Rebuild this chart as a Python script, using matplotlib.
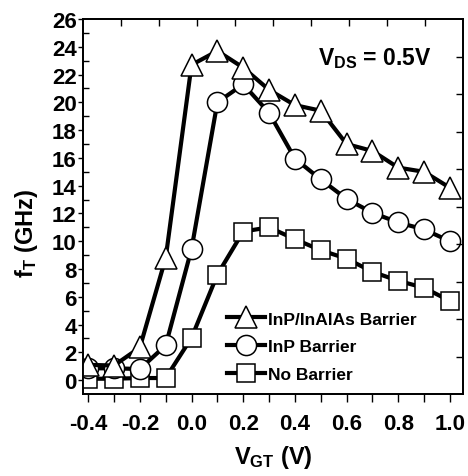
import matplotlib
matplotlib.use("Agg")
import matplotlib.pyplot as plt
import numpy as np

plt.rcParams['font.family'] = ['Liberation Sans', 'DejaVu Sans']
plt.rcParams['font.weight'] = 'bold'
plt.rcParams['mathtext.fontset'] = 'custom'
plt.rcParams['mathtext.rm'] = 'Liberation Sans:bold'
plt.rcParams['mathtext.it'] = 'Liberation Sans:bold'
plt.rcParams['mathtext.bf'] = 'Liberation Sans:bold'

vgt = [-0.4, -0.3, -0.2, -0.1, 0.0, 0.1, 0.2, 0.3, 0.4, 0.5, 0.6, 0.7, 0.8, 0.9, 1.0]
inp_inalas = [1.1, 1.05, 2.35, 8.8, 22.7, 23.7, 22.5, 20.9, 19.8, 19.4, 17.0, 16.5, 15.3, 15.0, 13.85]
inp = [0.85, 0.85, 0.8, 2.5, 9.45, 20.0, 21.3, 19.25, 15.95, 14.45, 13.05, 12.05, 11.35, 10.85, 10.0]
no_barrier = [0.1, 0.1, 0.15, 0.15, 3.05, 7.6, 10.7, 11.0, 10.15, 9.35, 8.75, 7.8, 7.15, 6.65, 5.7]

labels = ['InP/InAlAs Barrier', 'InP Barrier', 'No Barrier']

fig = plt.figure(figsize=(4.68, 4.77), dpi=100)
ax = fig.add_axes([0.1774, 0.1719, 0.8116, 0.7861])

lw = 3.0
mew = 1.1
h3, = ax.plot(vgt, no_barrier, color='black', lw=lw, marker='s', ms=13.5,
              mfc='white', mec='black', mew=mew, zorder=3, label=labels[2])
h2, = ax.plot(vgt, inp, color='black', lw=lw, marker='o', ms=14.5,
              mfc='white', mec='black', mew=mew, zorder=4, label=labels[1])
h1, = ax.plot(vgt, inp_inalas, color='black', lw=lw, marker='^', ms=16,
              mfc='white', mec='black', mew=mew, zorder=5, label=labels[0])

ax.set_xlim(-0.42, 1.05)
ax.set_ylim(-1, 26)
ax.set_xticks(np.arange(-0.4, 1.01, 0.2))
ax.set_xticklabels(['-0.4', '-0.2', '0.0', '0.2', '0.4', '0.6', '0.8', '1.0'])
ax.set_xticks(np.arange(-0.4, 1.01, 0.1), minor=True)
ax.set_yticks(np.arange(0, 27, 2))
ax.set_yticks(np.arange(1, 26, 2), minor=True)

for s in ax.spines.values():
    s.set_linewidth(1.1)

ax.tick_params(axis='x', which='both', direction='out', length=5.5, width=1.0,
               labelsize=16, pad=8, top=False)
ax.tick_params(axis='y', which='major', direction='out', length=3.5, width=1.0,
               labelsize=16, pad=1, right=False)
ax.tick_params(axis='y', which='minor', direction='in', length=4, width=1.0, right=False)

# decorative top / right tick scales
axt = ax.twiny()
axt.set_xlim(0, 10)
axt.set_xticks(np.arange(1, 10))
axt.tick_params(axis='x', direction='in', length=5, width=1.0, labeltop=False)
axr = ax.twinx()
axr.set_ylim(0, 10)
axr.set_yticks(np.arange(1, 10))
axr.tick_params(axis='y', direction='in', length=5, width=1.0, labelright=False)
for a in (axt, axr):
    for s in a.spines.values():
        s.set_linewidth(1.1)

fig.text(273 / 468, 1 - 458 / 477, r'V$_{\mathregular{GT}}$ (V)', fontsize=17,
         fontweight='bold', ha='center', va='center')
fig.text(26 / 468, 1 - 233 / 477, r'f$_{\mathregular{T}}$ (GHz)', fontsize=17,
         fontweight='bold', ha='center', va='center', rotation=90)

ax.text(0.918, 0.88, r'V$_{\mathregular{DS}}$ = 0.5V', transform=ax.transAxes,
        fontsize=16.5, fontweight='bold', ha='right', va='baseline')

leg = ax.legend(handles=[h1, h2, h3], loc='lower left', bbox_to_anchor=(0.347, 0.0),
                frameon=False, fontsize=12.5, handlelength=2.2, handletextpad=0.15,
                labelspacing=0.72, borderaxespad=0.3)
for t in leg.get_texts():
    t.set_fontweight('bold')

fig.savefig('out.png', dpi=100)
